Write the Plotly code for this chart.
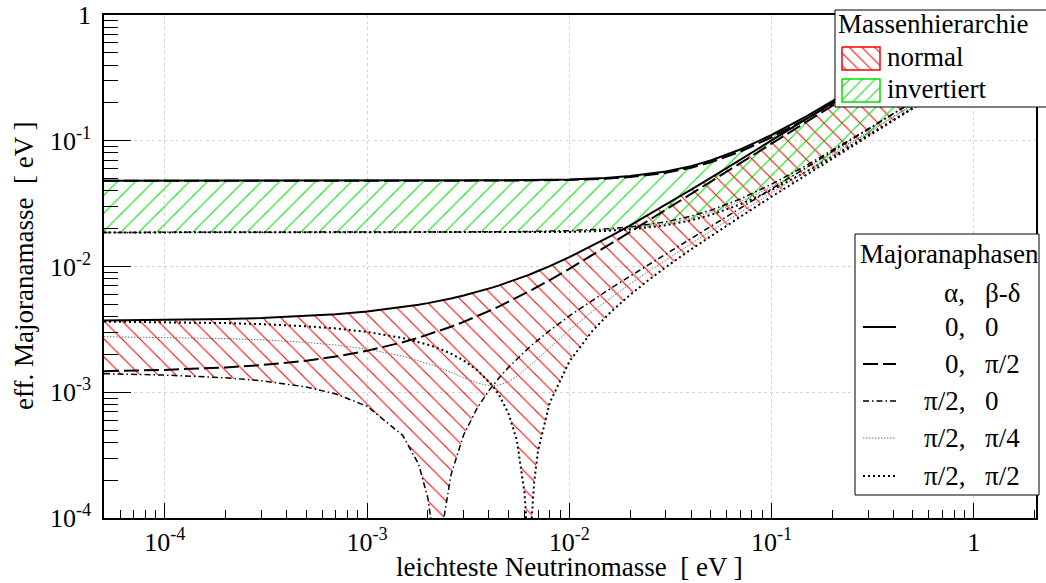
import numpy as np
import plotly.graph_objects as go

W, H = 1046, 583
X0, X1 = 104, 1036   # frame (px)
Y0, Y1 = 15, 518

# lightest neutrino mass [eV] (normal hierarchy sampling)
m_nh = [5e-5, 1e-4, 2e-4, 3e-4, 5e-4, 7e-4, 1e-3, 1.5e-3, 1.8e-3, 2e-3, 2.1e-3, 2.2e-3,
        2.233e-3, 2.27e-3, 2.4e-3, 2.6e-3, 3e-3, 3.5e-3, 4e-3, 4.15e-3, 4.5e-3, 5e-3,
        5.5e-3, 6e-3, 6.1e-3, 6.3e-3, 6.5e-3, 6.7e-3, 7e-3, 8e-3, 1e-2, 1.3e-2, 1.6e-2,
        2e-2, 2.5e-2, 3e-2, 4e-2, 5e-2, 7e-2, 0.1, 0.15, 0.2, 0.3, 0.5, 1, 2]

# effective Majorana mass [meV], normal hierarchy, phases (alpha, beta-delta)
nh_0_0 = [3.716, 3.750, 3.819, 3.888, 4.027, 4.167, 4.380, 4.742, 4.963, 5.112, 5.187, 5.263,
          5.287, 5.315, 5.414, 5.567, 5.876, 6.269, 6.669, 6.791, 7.076, 7.489, 7.907, 8.331,
          8.416, 8.587, 8.759, 8.932, 9.192, 10.070, 11.866, 14.631, 17.454, 21.274, 26.105,
          30.976, 40.786, 50.653, 70.477, 100.32, 150.18, 200.09, 299.98, 499.83, 999.54, 1999.0]
nh_0_p2 = [1.472, 1.506, 1.575, 1.644, 1.783, 1.923, 2.136, 2.497, 2.718, 2.867, 2.941, 3.017,
           3.041, 3.069, 3.168, 3.320, 3.628, 4.020, 4.418, 4.539, 4.823, 5.233, 5.649, 6.070,
           6.155, 6.325, 6.494, 6.667, 6.925, 7.796, 9.576, 12.310, 15.094, 18.851, 23.586,
           28.345, 37.890, 47.447, 66.563, 95.221, 142.95, 190.66, 286.06, 476.82, 953.68, 1907.4]
nh_p2_0 = [1.404, 1.370, 1.303, 1.235, 1.102, 0.9696, 0.774, 0.4542, 0.2663, 0.1426, 0.0811, 0.0201,
           0.000001, 0.0226, 0.1012, 0.2213, 0.4578, 0.7471, 1.0298, 1.1134, 1.3062, 1.5767, 1.8418,
           2.1019, 2.1533, 2.2557, 2.3574, 2.4584, 2.6086, 3.0996, 4.0445, 5.3963, 6.6983, 8.3895,
           10.464, 12.515, 16.590, 20.653, 28.777, 40.979, 61.35, 81.740, 122.54, 204.19, 408.32, 816.61]
nh_p2_p4 = [2.764, 2.733, 2.672, 2.611, 2.491, 2.374, 2.203, 1.935, 1.786, 1.692, 1.646, 1.602,
            1.588, 1.572, 1.519, 1.441, 1.307, 1.186, 1.130, 1.126, 1.141, 1.214, 1.335, 1.491,
            1.525, 1.595, 1.668, 1.744, 1.860, 2.268, 3.117, 4.392, 5.643, 7.279, 9.290, 11.277,
            15.211, 19.117, 26.891, 38.514, 57.849, 77.169, 115.79, 193.02, 386.07, 772.16]
nh_p2_p2 = [3.648, 3.614, 3.547, 3.479, 3.346, 3.214, 3.018, 2.699, 2.512, 2.388, 2.327, 2.266,
            2.246, 2.224, 2.145, 2.026, 1.790, 1.502, 1.221, 1.138, 0.947, 0.6787, 0.416, 0.1587,
            0.1077, 0.0065, 0.094, 0.1938, 0.342, 0.8262, 1.7545, 3.0749, 4.3379, 5.9659, 7.9446,
            9.8844, 13.694, 17.447, 24.863, 35.879, 54.122, 72.310, 108.62, 181.18, 362.46, 724.99]

# inverted hierarchy
m_ih = [5e-5, 1e-3, 3e-3, 5e-3, 1e-2, 1.5e-2, 2e-2, 3e-2, 4e-2, 5e-2, 7e-2, 0.1, 0.15, 0.2,
        0.3, 0.5, 1, 2]
ih_0_0 = [48.069, 48.101, 48.227, 48.43, 49.279, 50.595, 52.343, 56.981, 62.856, 69.665, 85.174,
          111.14, 157.61, 205.73, 303.77, 502.11, 1000.69, 1999.6]
ih_0_p2 = [48.067, 48.055, 48.089, 48.20, 48.821, 49.908, 51.427, 55.607, 61.024, 67.375, 81.968,
           106.56, 150.74, 196.57, 290.03, 479.21, 954.89, 1908.0]
ih_p2_0 = [18.657, 18.683, 18.761, 18.87, 19.279, 19.875, 20.643, 22.635, 25.116, 27.965, 34.402,
           45.107, 64.18, 83.888, 123.99, 205.05, 408.75, 816.83]
ih_p2_p4 = [18.656, 18.660, 18.692, 18.755, 19.051, 19.534, 20.190, 21.959, 24.217, 26.844, 32.838,
            42.878, 60.842, 79.440, 117.32, 193.94, 386.53, 772.39]
ih_p2_p2 = [18.655, 18.637, 18.623, 18.64, 18.821, 19.188, 19.727, 21.261, 23.284, 25.675, 31.196,
            40.527, 57.31, 74.728, 110.25, 182.15, 362.95, 725.23]

x_ticks = [1e-4, 1e-3, 1e-2, 1e-1, 1]
x_ticktext = ["10<sup>-4</sup>", "10<sup>-3</sup>", "10<sup>-2</sup>", "10<sup>-1</sup>", "1"]
y_ticks = [1e-4, 1e-3, 1e-2, 1e-1, 1]
y_ticktext = ["10<sup>-4</sup>", "10<sup>-3</sup>", "10<sup>-2</sup>", "10<sup>-1</sup>", "1"]

phase_col1 = ["0,", "0,", "π/2,", "π/2,", "π/2,"]
phase_col2 = ["0", "π/2", "0", "π/4", "π/2"]

line_styles = [
    dict(color="black", width=2, dash="solid"),
    dict(color="black", width=2, dash="15px,5px"),
    dict(color="black", width=1.5, dash="6px,3px,1.5px,3px"),
    dict(color="#707070", width=1, dash="1.5px,1.5px"),
    dict(color="black", width=2, dash="2px,3px"),
]

meV = 1e-3
nh = [np.array(v) * meV for v in (nh_0_0, nh_0_p2, nh_p2_0, nh_p2_p4, nh_p2_p2)]
ih = [np.array(v) * meV for v in (ih_0_0, ih_0_p2, ih_p2_0, ih_p2_p4, ih_p2_p2)]
nh_low = np.minimum.reduce(nh)
nh_up = np.maximum.reduce(nh)
ih_low = np.minimum.reduce(ih)
ih_up = np.maximum.reduce(ih)

RED = "#ff0000"
GREEN = "#00e000"
hatch_size = 12.728

fig = go.Figure()

# hatched bands
fig.add_trace(go.Scatter(x=m_nh, y=nh_low, mode="lines", line=dict(width=0), hoverinfo="skip"))
fig.add_trace(go.Scatter(x=m_nh, y=nh_up, mode="lines", line=dict(width=0), fill="tonexty",
                         fillcolor="rgba(0,0,0,0)",
                         fillpattern=dict(shape="\\", fgcolor=RED, bgcolor="rgba(0,0,0,0)",
                                          fgopacity=1, size=hatch_size, solidity=0.085),
                         hoverinfo="skip"))
fig.add_trace(go.Scatter(x=m_ih, y=ih_low, mode="lines", line=dict(width=0), hoverinfo="skip"))
fig.add_trace(go.Scatter(x=m_ih, y=ih_up, mode="lines", line=dict(width=0), fill="tonexty",
                         fillcolor="rgba(0,0,0,0)",
                         fillpattern=dict(shape="/", fgcolor=GREEN, bgcolor="rgba(0,0,0,0)",
                                          fgopacity=1, size=hatch_size, solidity=0.085),
                         hoverinfo="skip"))

# curves
for ys, st in zip(ih, line_styles):
    fig.add_trace(go.Scatter(x=m_ih, y=ys, mode="lines", line=st))
for ys, st in zip(nh, line_styles):
    fig.add_trace(go.Scatter(x=m_nh, y=ys, mode="lines", line=st))

# ---- legends drawn on a pixel overlay axis ----
def box(x0, y0, x1, y1, **kw):
    return go.Scatter(x=[x0, x1, x1, x0, x0], y=[y0, y0, y1, y1, y0], mode="lines",
                      xaxis="x2", yaxis="y2", fill="toself", hoverinfo="skip", **kw)

fig.add_trace(box(835, 10, 1047, 107, fillcolor="white", line=dict(color="black", width=1)))
fig.add_trace(box(842, 47, 880, 70, fillcolor="rgba(0,0,0,0)", line=dict(color=RED, width=1.5),
                  fillpattern=dict(shape="\\", fgcolor=RED, bgcolor="rgba(0,0,0,0)", fgopacity=1,
                                   size=9, solidity=0.11)))
fig.add_trace(box(842, 79, 880, 102, fillcolor="rgba(0,0,0,0)", line=dict(color=GREEN, width=1.5),
                  fillpattern=dict(shape="/", fgcolor=GREEN, bgcolor="rgba(0,0,0,0)", fgopacity=1,
                                   size=9, solidity=0.11)))
fig.add_trace(box(855, 234, 1039, 495, fillcolor="white", line=dict(color="black", width=1)))

row_y = [327, 364, 401, 438, 476]
for ry, st in zip(row_y, line_styles):
    fig.add_trace(go.Scatter(x=[863, 896], y=[ry, ry], mode="lines", line=st,
                             xaxis="x2", yaxis="y2", hoverinfo="skip"))

FONT = "Liberation Serif"
ann = []
def txt(x, y, s, xa="left", size=27, angle=0):
    ann.append(dict(x=x, y=y, xref="x2", yref="y2", text=s, showarrow=False, xanchor=xa,
                    yanchor="middle", textangle=angle,
                    font=dict(family=FONT, size=size, color="black")))

txt(836, 24, "Massenhierarchie")
txt(885, 57, "normal")
txt(885, 89, "invertiert")
txt(858, 254, "Majoranaphasen")
txt(967, 293, "α,", xa="right")
txt(983, 293, "β-δ")
for ry, a, b in zip(row_y, phase_col1, phase_col2):
    txt(967, ry, a, xa="right")
    txt(983, ry, b)
txt(569, 567, "leichteste Neutrinomasse\u00a0\u00a0[ eV ]", xa="center")
txt(24, 266, "eff. Majoranamasse\u00a0\u00a0[ eV ]", xa="center", angle=-90)

xminor = [k * 10.0 ** e for e in range(-5, 1) for k in range(2, 10)
          if 5e-5 < k * 10.0 ** e < 2.05]
yminor = [k * 10.0 ** e for e in range(-4, 0) for k in range(2, 10)]

axis_common = dict(type="log", tickmode="array", ticks="inside", tickcolor="black", tickwidth=1,
                   showgrid=True, gridcolor="#d4d4d4", griddash="dot", gridwidth=1,
                   showline=True, linecolor="black", linewidth=1.5, mirror=True, zeroline=False,
                   automargin=False,
                   tickfont=dict(family=FONT, size=26, color="black"))

fig.update_layout(
    width=W, height=H, margin=dict(l=0, r=0, t=0, b=0, pad=0, autoexpand=False),
    paper_bgcolor="white", plot_bgcolor="rgba(0,0,0,0)", showlegend=False,
    font=dict(family=FONT, size=26, color="black"),
    xaxis=dict(domain=[X0 / W, X1 / W], range=[np.log10(5e-5), np.log10(2.03)], anchor="y",
               tickvals=x_ticks, ticktext=x_ticktext, ticklen=15, ticklabelstandoff=0,
               minor=dict(tickmode="array", tickvals=xminor, ticks="inside", ticklen=8,
                          tickwidth=1, tickcolor="black", showgrid=False),
               **axis_common),
    yaxis=dict(domain=[(H - Y1) / H, (H - Y0) / H], range=[-4, 0], anchor="x",
               tickvals=y_ticks, ticktext=y_ticktext, ticklen=27, ticklabelstandoff=6,
               minor=dict(tickmode="array", tickvals=yminor, ticks="inside", ticklen=14,
                          tickwidth=1, tickcolor="black", showgrid=False),
               **axis_common),
    xaxis2=dict(domain=[0, 1], range=[0, W], anchor="y2", visible=False, fixedrange=True,
                automargin=False),
    yaxis2=dict(domain=[0, 1], range=[H, 0], anchor="x2", visible=False, fixedrange=True,
                automargin=False),
    annotations=ann,
)

fig.write_html("out.html")
